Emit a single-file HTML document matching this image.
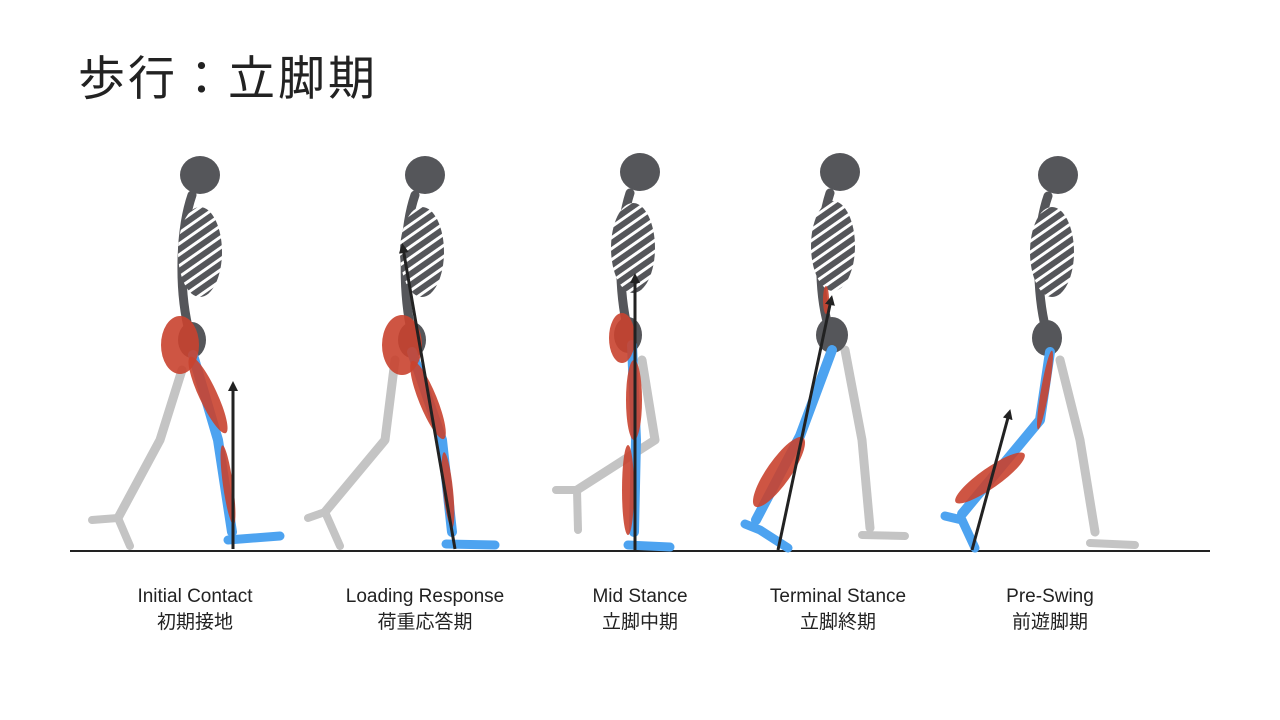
<!DOCTYPE html>
<html><head><meta charset="utf-8">
<style>
html,body{margin:0;padding:0;background:#fff;width:1280px;height:720px;overflow:hidden}
svg{display:block}
.t{font-family:"Liberation Sans","Noto Sans CJK JP",sans-serif;fill:#222}
.sk{stroke:#55565a;fill:none;stroke-linecap:round;stroke-linejoin:round}
.g{stroke:#c4c4c4;fill:none;stroke-linecap:round;stroke-linejoin:round}
.b{stroke:#4da3f0;fill:none;stroke-linecap:round;stroke-linejoin:round}
.m{fill:#c9432f;opacity:.9}
.ar{stroke:#222;stroke-width:3}
</style></head><body>
<svg width="1280" height="720" viewBox="0 0 1280 720">
<defs>
<pattern id="rib" patternUnits="userSpaceOnUse" width="9" height="9" patternTransform="rotate(-35)">
<rect width="9" height="9" fill="#55565a"/><rect y="4" width="9" height="3" fill="#fff"/>
</pattern>
<marker id="ah2" viewBox="0 0 10 10" refX="5" refY="5" markerWidth="10" markerHeight="10" orient="auto" markerUnits="userSpaceOnUse"><path d="M0,0L10,5L0,10z" fill="#222"/></marker>
</defs>
<text class="t" x="78" y="95" font-size="47" letter-spacing="3">歩行：立脚期</text>
<line x1="70" y1="551" x2="1210" y2="551" stroke="#222" stroke-width="2"/>

<g>
<polyline class="g" stroke-width="9" points="182,370 160,440 118,518"/>
<polyline class="g" stroke-width="8" points="92,520 118,518 130,546"/>
<ellipse cx="200" cy="175" rx="20" ry="19" fill="#55565a"/>
<path class="sk" stroke-width="9" d="M192,195 C180,230 178,290 190,335"/>
<ellipse cx="200" cy="252" rx="22" ry="45" fill="url(#rib)"/>
<ellipse cx="192" cy="340" rx="14" ry="18" fill="#55565a"/>
<polyline class="b" stroke-width="10" points="193,355 218,440 232,532"/>
<polyline class="b" stroke-width="9" points="228,540 280,536"/>
<ellipse class="m" cx="180" cy="345" rx="19" ry="29"/>
<ellipse class="m" cx="208" cy="395" rx="9" ry="42" transform="rotate(-25 208 395)"/>
<ellipse class="m" cx="228" cy="485" rx="5" ry="40" transform="rotate(-8 228 485)"/>
<line class="ar" x1="233" y1="549" x2="233" y2="386" marker-end="url(#ah2)"/>
</g>

<g>
<polyline class="g" stroke-width="9" points="395,360 385,440 325,512"/>
<polyline class="g" stroke-width="8" points="308,518 325,512 340,546"/>
<ellipse cx="425" cy="175" rx="20" ry="19" fill="#55565a"/>
<path class="sk" stroke-width="9" d="M415,195 C403,230 402,290 412,335"/>
<ellipse cx="422" cy="252" rx="22" ry="45" fill="url(#rib)"/>
<ellipse cx="412" cy="340" rx="14" ry="18" fill="#55565a"/>
<polyline class="b" stroke-width="10" points="412,352 442,440 452,532"/>
<polyline class="b" stroke-width="9" points="446,544 495,545"/>
<ellipse class="m" cx="402" cy="345" rx="20" ry="30"/>
<ellipse class="m" cx="428" cy="400" rx="9" ry="42" transform="rotate(-22 428 400)"/>
<ellipse class="m" cx="448" cy="490" rx="5" ry="38" transform="rotate(-6 448 490)"/>
<line class="ar" x1="455" y1="549" x2="403" y2="248" marker-end="url(#ah2)"/>
</g>

<g>
<polyline class="g" stroke-width="9" points="642,360 655,440 577,490"/>
<polyline class="g" stroke-width="8" points="556,490 577,490 578,530"/>
<ellipse cx="640" cy="172" rx="20" ry="19" fill="#55565a"/>
<path class="sk" stroke-width="9" d="M630,193 C618,230 618,290 628,330"/>
<ellipse cx="633" cy="248" rx="22" ry="45" fill="url(#rib)"/>
<ellipse cx="628" cy="335" rx="14" ry="18" fill="#55565a"/>
<polyline class="b" stroke-width="10" points="632,345 636,440 634,532"/>
<polyline class="b" stroke-width="9" points="628,545 670,547"/>
<ellipse class="m" cx="622" cy="338" rx="13" ry="25"/>
<ellipse class="m" cx="634" cy="400" rx="8" ry="40"/>
<ellipse class="m" cx="628" cy="490" rx="6" ry="45"/>
<line class="ar" x1="635" y1="550" x2="635" y2="278" marker-end="url(#ah2)"/>
</g>

<g>
<polyline class="g" stroke-width="9" points="845,350 862,440 870,528"/>
<polyline class="g" stroke-width="8" points="862,535 905,536"/>
<ellipse cx="840" cy="172" rx="20" ry="19" fill="#55565a"/>
<path class="sk" stroke-width="9" d="M830,193 C818,230 818,290 828,325"/>
<ellipse cx="833" cy="246" rx="22" ry="45" fill="url(#rib)"/>
<ellipse cx="832" cy="335" rx="16" ry="18" fill="#55565a"/>
<polyline class="b" stroke-width="10" points="832,350 800,436 756,520"/>
<polyline class="b" stroke-width="9" points="745,524 760,530 788,548"/>
<ellipse class="m" cx="779" cy="472" rx="12" ry="42" transform="rotate(35 779 472)"/>
<ellipse class="m" cx="826" cy="300" rx="3" ry="14"/>
<line class="ar" x1="778" y1="550" x2="831" y2="300" marker-end="url(#ah2)"/>
</g>

<g>
<polyline class="g" stroke-width="9" points="1060,360 1080,440 1095,532"/>
<polyline class="g" stroke-width="8" points="1090,543 1135,545"/>
<ellipse cx="1058" cy="175" rx="20" ry="19" fill="#55565a"/>
<path class="sk" stroke-width="9" d="M1048,196 C1036,230 1036,290 1046,330"/>
<ellipse cx="1052" cy="252" rx="22" ry="45" fill="url(#rib)"/>
<ellipse cx="1047" cy="338" rx="15" ry="18" fill="#55565a"/>
<polyline class="b" stroke-width="10" points="1050,352 1040,420 962,514"/>
<polyline class="b" stroke-width="9" points="945,516 962,520 975,548"/>
<ellipse class="m" cx="990" cy="478" rx="10" ry="42" transform="rotate(55 990 478)"/>
<ellipse class="m" cx="1045" cy="390" rx="4" ry="40" transform="rotate(10 1045 390)"/>
<line class="ar" x1="972" y1="550" x2="1009" y2="414" marker-end="url(#ah2)"/>
</g>

<g class="t" font-size="19" text-anchor="middle">
<text x="195" y="602">Initial Contact</text><text x="195" y="628">初期接地</text>
<text x="425" y="602">Loading Response</text><text x="425" y="628">荷重応答期</text>
<text x="640" y="602">Mid Stance</text><text x="640" y="628">立脚中期</text>
<text x="838" y="602">Terminal Stance</text><text x="838" y="628">立脚終期</text>
<text x="1050" y="602">Pre-Swing</text><text x="1050" y="628">前遊脚期</text>
</g>
</svg>
</body></html>
